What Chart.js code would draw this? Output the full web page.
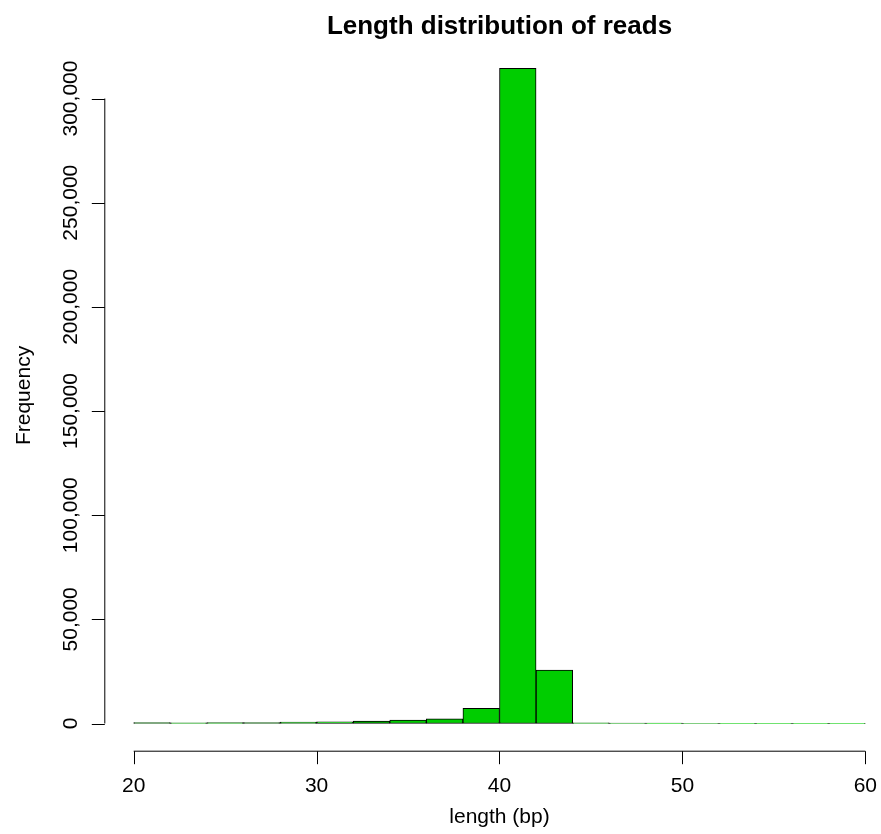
<!DOCTYPE html>
<html>
<head>
<meta charset="utf-8">
<script src="https://cdn.jsdelivr.net/npm/chart.js@4/dist/chart.umd.min.js"></script>
<style>
  html, body { margin: 0; padding: 0; background: #fff; }
  canvas { display: block; }
</style>
</head>
<body>
<canvas id="chart" width="881" height="834"></canvas>
<script>
// bin centres (bins are 2 bp wide, 20..60) and read counts per bin
const binCenters = [21, 23, 25, 27, 29, 31, 33, 35, 37, 39, 41, 43, 45, 47, 49, 51, 53, 55, 57, 59];
const counts = [450, 350, 400, 500, 650, 860, 1200, 1700, 2300, 7300, 314500, 25700, 300, 200, 150, 40, 100, 100, 80, 60];
const xTicks = [20, 30, 40, 50, 60];
const yTicks = [0, 50000, 100000, 150000, 200000, 250000, 300000];

const FONT = '"Liberation Sans", Arial, Helvetica, sans-serif';

function fmt(v) {
  return v.toString().replace(/\B(?=(\d{3})+(?!\d))/g, ',');
}

// R style axes: lines only span the first to last tick, drawn outside the bars
const rAxes = {
  id: 'rAxes',
  afterDraw(chart) {
    const ctx = chart.ctx;
    const xs = chart.scales.x;
    const ys = chart.scales.y;
    const area = chart.chartArea;
    ctx.save();
    ctx.strokeStyle = '#000';
    ctx.fillStyle = '#000';
    ctx.lineWidth = 1;

    // x axis
    const axY = area.bottom + 0.5;
    ctx.beginPath();
    ctx.moveTo(xs.getPixelForValue(xTicks[0]), axY);
    ctx.lineTo(xs.getPixelForValue(xTicks[xTicks.length - 1]), axY);
    xTicks.forEach(t => {
      const px = Math.round(xs.getPixelForValue(t)) + 0.5;
      ctx.moveTo(px, axY);
      ctx.lineTo(px, axY + 13);
    });
    ctx.stroke();
    ctx.font = '21px ' + FONT;
    ctx.textAlign = 'center';
    ctx.textBaseline = 'alphabetic';
    xTicks.forEach(t => {
      ctx.fillText(String(t), xs.getPixelForValue(t), 792);
    });

    // y axis
    const axX = area.left + 0.5;
    ctx.beginPath();
    ctx.moveTo(axX, ys.getPixelForValue(yTicks[0]));
    ctx.lineTo(axX, ys.getPixelForValue(yTicks[yTicks.length - 1]));
    yTicks.forEach(t => {
      const py = Math.round(ys.getPixelForValue(t)) + 0.5;
      ctx.moveTo(axX, py);
      ctx.lineTo(axX - 13, py);
    });
    ctx.stroke();
    yTicks.forEach(t => {
      ctx.save();
      ctx.translate(77, ys.getPixelForValue(t));
      ctx.rotate(-Math.PI / 2);
      ctx.fillText(fmt(t), 0, 0);
      ctx.restore();
    });

    // axis titles and main title, centred on the plot region like R
    const midX = xs.getPixelForValue(40);
    ctx.fillText('length (bp)', midX, 823);
    ctx.save();
    ctx.translate(29.5, (area.top + area.bottom) / 2);
    ctx.rotate(-Math.PI / 2);
    ctx.fillText('Frequency', 0, 0);
    ctx.restore();

    ctx.font = 'bold 26px ' + FONT;
    ctx.fillText('Length distribution of reads', midX, 34);
    ctx.restore();
  }
};

new Chart(document.getElementById('chart'), {
  type: 'bar',
  data: {
    datasets: [{
      data: binCenters.map((c, i) => ({ x: c, y: counts[i] })),
      backgroundColor: '#00CD00',
      borderColor: '#000',
      borderWidth: 1,
      borderSkipped: false,
      barPercentage: 1,
      categoryPercentage: 1
    }]
  },
  options: {
    responsive: false,
    animation: false,
    layout: { padding: { left: 104.3, right: 0, top: 40.2, bottom: 83.3 } },
    plugins: {
      legend: { display: false },
      title: { display: false },
      tooltip: { enabled: false }
    },
    scales: {
      x: { type: 'linear', min: 18.393, max: 60.858, display: false, offset: false },
      y: { min: -13056, max: 328000, display: false }
    }
  },
  plugins: [rAxes]
});
</script>
</body>
</html>
